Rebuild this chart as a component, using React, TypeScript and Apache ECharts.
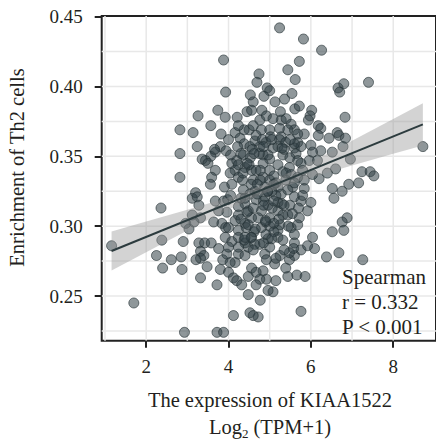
import React, { useEffect, useRef } from "react";
import * as echarts from "echarts";

// KIAA1522 expression, Log2(TPM+1)
const expression = [
  3.88, 4.74, 4.69, 3.93, 4.53, 4.60, 3.74, 4.45, 4.56, 3.26, 3.92, 4.21, 2.82, 3.14, 3.57, 3.82, 4.16, 4.50, 4.76, 4.80,
  3.24, 3.80, 3.94, 3.68, 3.57, 2.82, 3.44, 3.36, 3.50, 4.28, 4.38, 4.52, 4.22, 4.08, 4.16, 4.04, 3.68, 2.82, 3.59, 5.24,
  5.82, 6.26, 5.72, 5.44, 5.62, 4.94, 5.00, 4.86, 5.13, 5.36, 5.54, 6.66, 6.80, 6.70, 7.40, 4.81, 4.92, 5.26, 5.28, 5.61,
  5.72, 6.02, 5.98, 5.94, 6.83, 5.40, 5.52, 5.60, 6.18, 6.24, 5.00, 5.24, 5.28, 5.84, 6.44, 6.64, 6.68, 6.84, 6.18, 6.78,
  6.52, 6.24, 6.00, 6.04, 5.68, 5.60, 5.64, 5.76, 5.32, 4.76, 4.84, 5.20, 5.24, 6.96, 6.60, 6.40, 7.24, 7.44, 7.53, 8.72,
  4.38, 3.66, 3.56, 3.20, 3.12, 3.24, 3.28, 2.36, 3.90, 3.68, 3.88, 3.98, 3.76, 3.96, 3.12, 3.32, 2.96, 3.04, 3.64, 3.84,
  3.93, 4.20, 4.24, 4.08, 4.64, 4.40, 4.56, 4.60, 4.64, 4.52, 4.40, 4.24, 4.56, 4.40, 4.16, 4.24, 4.00, 5.68, 5.60, 5.00,
  5.96, 5.76, 5.48, 5.32, 5.52, 5.68, 6.20, 6.04, 5.84, 7.16, 6.92, 6.76, 6.52, 6.56, 5.00, 4.84, 5.00, 4.88, 5.20, 5.56,
  5.84, 5.60, 5.76, 6.00, 5.28, 5.20, 4.88, 4.96, 4.80, 5.20, 5.32, 5.72, 6.88, 6.76, 6.52, 6.80, 4.80, 5.00, 5.20, 5.52,
  5.60, 6.04, 6.09, 6.38, 6.68, 7.26, 5.44, 5.66, 5.86, 5.08, 5.76, 4.72, 5.76, 5.60, 5.48, 5.12, 4.88, 4.84, 4.92, 5.20,
  5.00, 4.76, 4.96, 5.60, 5.58, 5.48, 4.92, 4.76, 2.38, 2.90, 2.25, 2.61, 2.85, 2.87, 2.40, 3.28, 3.42, 3.58, 3.76, 3.32,
  3.40, 3.32, 3.48, 3.21, 3.32, 3.72, 3.86, 3.96, 4.16, 4.04, 4.24, 4.40, 4.48, 3.80, 4.00, 4.12, 4.20, 4.32, 4.48, 4.56,
  4.48, 4.12, 4.52, 4.60, 2.93, 3.72, 3.88, 3.92, 4.08, 4.24, 4.40, 4.56, 4.24, 4.00, 4.64, 1.16, 1.70, 3.16, 4.67, 4.91,
  5.08, 5.39, 5.49, 4.67, 4.84, 5.20, 5.39, 4.67, 4.36, 4.48, 4.72, 5.00, 5.44, 5.25, 5.39, 5.15, 4.96, 4.67, 4.77, 4.67,
  5.15, 4.24, 4.05, 4.34, 5.10, 5.80, 5.80, 5.92, 5.92, 5.25, 5.06, 4.43, 5.49, 4.60, 5.08, 5.44, 4.24, 4.00, 4.77, 4.53,
  6.16, 4.36, 4.96, 4.77, 5.44, 4.48, 4.91, 5.32, 4.60, 5.15, 4.24, 4.05, 5.68, 5.68,
  4.55, 4.70, 4.85, 5.05, 5.15, 5.30, 4.45, 4.62, 4.90, 5.10, 4.30, 4.58, 4.82, 5.02, 5.35, 4.50, 4.75, 4.95, 5.22, 4.38,
  4.30, 4.45, 4.62, 4.85, 5.05, 5.30, 5.50, 4.35, 4.70, 4.95, 5.10, 5.40, 5.60, 4.40, 4.60, 4.85, 5.10, 5.35, 5.55, 4.30,
  4.65, 4.90, 5.10, 5.45, 4.55, 5.05, 5.35, 4.85, 4.40, 5.70
];

// Enrichment of Th2 cells
const enrichment = [
  0.419, 0.409, 0.403, 0.396, 0.394, 0.389, 0.383, 0.382, 0.383, 0.379, 0.378, 0.378, 0.369, 0.367, 0.372, 0.366, 0.367, 0.369, 0.376, 0.369,
  0.357, 0.357, 0.354, 0.353, 0.350, 0.352, 0.347, 0.348, 0.345, 0.363, 0.359, 0.357, 0.357, 0.345, 0.340, 0.338, 0.340, 0.335, 0.335, 0.442,
  0.434, 0.426, 0.418, 0.412, 0.405, 0.399, 0.397, 0.393, 0.389, 0.391, 0.395, 0.399, 0.402, 0.396, 0.403, 0.383, 0.379, 0.382, 0.376, 0.384,
  0.386, 0.383, 0.379, 0.376, 0.378, 0.377, 0.373, 0.369, 0.372, 0.370, 0.369, 0.370, 0.364, 0.366, 0.363, 0.367, 0.365, 0.363, 0.365, 0.357,
  0.353, 0.354, 0.358, 0.353, 0.360, 0.356, 0.352, 0.357, 0.351, 0.357, 0.351, 0.357, 0.362, 0.348, 0.341, 0.338, 0.339, 0.339, 0.336, 0.357,
  0.369, 0.355, 0.330, 0.324, 0.320, 0.321, 0.315, 0.313, 0.328, 0.318, 0.318, 0.319, 0.311, 0.310, 0.308, 0.306, 0.302, 0.298, 0.303, 0.302,
  0.299, 0.347, 0.335, 0.330, 0.361, 0.342, 0.340, 0.333, 0.325, 0.323, 0.316, 0.314, 0.306, 0.302, 0.304, 0.297, 0.299, 0.366, 0.359, 0.348,
  0.347, 0.345, 0.342, 0.339, 0.337, 0.335, 0.334, 0.337, 0.333, 0.331, 0.330, 0.325, 0.327, 0.320, 0.340, 0.335, 0.333, 0.328, 0.328, 0.328,
  0.327, 0.321, 0.318, 0.317, 0.323, 0.317, 0.321, 0.315, 0.311, 0.311, 0.308, 0.306, 0.306, 0.303, 0.296, 0.297, 0.299, 0.300, 0.297, 0.299,
  0.294, 0.292, 0.284, 0.278, 0.281, 0.276, 0.264, 0.265, 0.264, 0.253, 0.239, 0.235, 0.283, 0.279, 0.276, 0.273, 0.280, 0.268, 0.262, 0.292,
  0.285, 0.287, 0.291, 0.288, 0.284, 0.281, 0.276, 0.262, 0.290, 0.289, 0.279, 0.276, 0.278, 0.269, 0.270, 0.288, 0.288, 0.288, 0.284, 0.282,
  0.279, 0.277, 0.271, 0.276, 0.263, 0.258, 0.276, 0.280, 0.274, 0.274, 0.280, 0.279, 0.285, 0.269, 0.267, 0.263, 0.261, 0.258, 0.264, 0.270,
  0.251, 0.236, 0.238, 0.236, 0.224, 0.224, 0.224, 0.292, 0.289, 0.292, 0.288, 0.292, 0.285, 0.285, 0.287, 0.286, 0.245, 0.303, 0.365, 0.360,
  0.356, 0.360, 0.349, 0.340, 0.345, 0.344, 0.333, 0.319, 0.326, 0.311, 0.306, 0.306, 0.308, 0.279, 0.270, 0.261, 0.254, 0.258, 0.247, 0.267,
  0.322, 0.344, 0.351, 0.333, 0.336, 0.340, 0.322, 0.311, 0.286, 0.301, 0.313, 0.299, 0.315, 0.372, 0.377, 0.369, 0.372, 0.362, 0.333, 0.349,
  0.347, 0.351, 0.351, 0.340, 0.326, 0.301, 0.294, 0.290, 0.283, 0.277, 0.308, 0.322, 0.301, 0.347,
  0.330, 0.323, 0.318, 0.325, 0.331, 0.316, 0.310, 0.296, 0.303, 0.296, 0.320, 0.355, 0.362, 0.364, 0.355, 0.344, 0.352, 0.325, 0.305, 0.290,
  0.352, 0.345, 0.352, 0.357, 0.362, 0.356, 0.362, 0.338, 0.330, 0.325, 0.330, 0.338, 0.331, 0.320, 0.313, 0.315, 0.318, 0.315, 0.309, 0.305,
  0.298, 0.304, 0.302, 0.300, 0.292, 0.291, 0.283, 0.288, 0.292, 0.313
];

// fitted line and its confidence band
const fitX = [1.16, 8.72];
const fitY = [0.2822, 0.3729];
const bandX = [1.16, 2, 3, 4, 4.8, 6, 7, 8, 8.72];
const bandLow = [0.2682, 0.2813, 0.2969, 0.312, 0.3229, 0.3349, 0.3435, 0.3519, 0.3578];
const bandHigh = [0.2962, 0.3033, 0.3117, 0.3206, 0.3289, 0.3457, 0.3611, 0.3767, 0.388];

const xTicks = [2, 4, 6, 8];
const yTicks = [0.25, 0.3, 0.35, 0.4, 0.45];
const xGridLines = [1, 2, 3, 4, 5, 6, 7, 8];
const yGridLines = [0.225, 0.25, 0.275, 0.3, 0.325, 0.35, 0.375, 0.4, 0.425];

const statLines = ["Spearman", "r = 0.332", "P < 0.001"];

const FONT = "Liberation Serif";
const INK = "#231f20";
const X_MIN = 0.92;
const X_MAX = 9.039;
const Y_MIN = 0.218;
const Y_MAX = 0.4505;

export default function App() {
  const ref = useRef<HTMLDivElement>(null);
  useEffect(() => {
    if (!ref.current) return;
    const chart = echarts.init(ref.current, null, { renderer: "svg" });
    const points = expression.map((x, i) => [x, enrichment[i]]);
    const fit = fitX.map((x, i) => [x, fitY[i]]);
    chart.setOption({
      animation: false,
      textStyle: { fontFamily: FONT },
      grid: {
        left: 101.7,
        top: 16,
        right: -4,
        bottom: 102.3,
        show: true,
        borderColor: "#222",
        borderWidth: 2,
        backgroundColor: "transparent",
      },
      xAxis: {
        type: "value",
        min: X_MIN,
        max: X_MAX,
        axisLine: { show: false },
        axisTick: {
          show: true,
          customValues: xTicks,
          length: 7,
          lineStyle: { color: "#222", width: 2 },
        },
        axisLabel: {
          customValues: xTicks,
          fontFamily: FONT,
          fontSize: 19,
          color: INK,
          margin: 16,
        },
        splitLine: { show: false },
      },
      yAxis: {
        type: "value",
        min: Y_MIN,
        max: Y_MAX,
        axisLine: { show: false },
        axisTick: {
          show: true,
          customValues: yTicks,
          length: 7,
          lineStyle: { color: "#222", width: 2 },
        },
        axisLabel: {
          customValues: yTicks,
          formatter: (v: number) => v.toFixed(2),
          fontFamily: FONT,
          fontSize: 19,
          color: INK,
          margin: 19,
        },
        splitLine: { show: false },
      },
      series: [
        {
          type: "custom",
          z: 0,
          silent: true,
          data: [0],
          renderItem: (params: any, api: any) => {
            const children: any[] = [];
            xGridLines.forEach((v) => {
              const a = api.coord([v, Y_MIN]);
              const b = api.coord([v, Y_MAX]);
              children.push({
                type: "line",
                shape: { x1: a[0], y1: a[1], x2: b[0], y2: b[1] },
                style: { stroke: "#e8e8e8", lineWidth: 1.5 },
              });
            });
            yGridLines.forEach((v) => {
              const a = api.coord([X_MIN, v]);
              const b = api.coord([X_MAX, v]);
              children.push({
                type: "line",
                shape: { x1: a[0], y1: a[1], x2: b[0], y2: b[1] },
                style: { stroke: "#e8e8e8", lineWidth: 1.5 },
              });
            });
            return { type: "group", children };
          },
        },
        {
          type: "scatter",
          data: points,
          symbolSize: 10,
          z: 3,
          itemStyle: {
            color: "rgba(50,65,70,0.68)",
            borderColor: "rgba(36,48,52,0.8)",
            borderWidth: 1,
          },
        },
        {
          type: "custom",
          z: 4,
          silent: true,
          data: [0],
          renderItem: (params: any, api: any) => {
            const upper = bandX.map((x, i) => api.coord([x, bandHigh[i]]));
            const lower = bandX
              .map((x, i) => api.coord([x, bandLow[i]]))
              .reverse();
            return {
              type: "polygon",
              shape: { points: upper.concat(lower) },
              style: { fill: "rgba(150,150,150,0.42)" },
            };
          },
        },
        {
          type: "line",
          data: fit,
          z: 5,
          symbol: "none",
          silent: true,
          lineStyle: { color: "#2c3b3e", width: 2 },
        },
      ],
      graphic: [
        ...statLines.map((t, i) => ({
          type: "text",
          x: 342,
          y: 277 + i * 25,
          silent: true,
          z: 10,
          style: {
            text: t,
            fontFamily: FONT,
            fontSize: 21,
            fill: INK,
            align: "left",
            verticalAlign: "middle",
          },
        })),
        {
          type: "text",
          x: 270,
          y: 400,
          style: {
            text: "The expression of KIAA1522",
            fontFamily: FONT,
            fontSize: 20.5,
            fill: INK,
            align: "center",
            verticalAlign: "middle",
          },
        },
        {
          type: "text",
          x: 270,
          y: 427,
          style: {
            text: "{a|Log}{s|2}{a| (TPM+1)}",
            fontFamily: FONT,
            fill: INK,
            align: "center",
            verticalAlign: "middle",
            rich: {
              a: { fontFamily: FONT, fontSize: 20.5, lineHeight: 26, fill: INK },
              s: {
                fontFamily: FONT,
                fontSize: 13,
                lineHeight: 13,
                verticalAlign: "bottom",
                fill: INK,
              },
            },
          },
        },
        {
          type: "text",
          x: 17,
          y: 167.5,
          rotation: Math.PI / 2,
          style: {
            text: "Enrichment of Th2 cells",
            fontFamily: FONT,
            fontSize: 20.5,
            fill: INK,
            align: "center",
            verticalAlign: "middle",
          },
        },
      ],
    });
    return () => chart.dispose();
  }, []);
  return (
    <div
      ref={ref}
      style={{ position: "absolute", left: 0, top: 0, width: 436, height: 443 }}
    />
  );
}
